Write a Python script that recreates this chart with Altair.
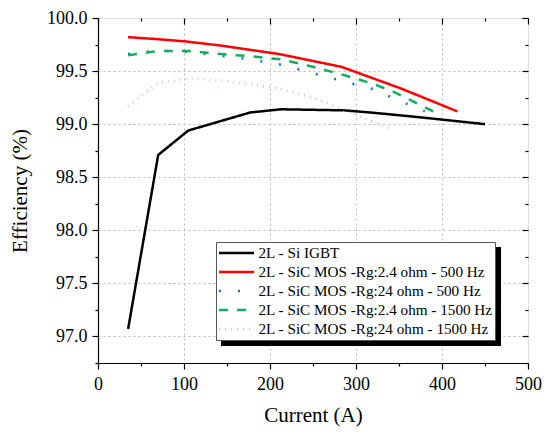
import altair as alt
import pandas as pd

series_names = [
    "2L - Si IGBT",
    "2L - SiC MOS -Rg:2.4 ohm - 500 Hz",
    "2L - SiC MOS -Rg:24 ohm - 500 Hz",
    "2L - SiC MOS -Rg:2.4 ohm - 1500 Hz",
    "2L - SiC MOS -Rg:24 ohm - 1500 Hz",
]
colors = ["#000000", "#FF0000", "#1470E8", "#13AD5C", "#C86EE6"]
dashes = [[1, 0], [1, 0], [2, 17], [9, 9], [0.5, 5.5]]
widths = [2.5, 2.5, 5, 3, 4.5]

igbt_x = [35, 70, 105, 177, 213, 287, 330, 380, 450]
igbt_y = [97.07, 98.71, 98.94, 99.11, 99.14, 99.13, 99.10, 99.06, 99.00]

sic24_500_x = [35, 70, 101, 143, 211, 283, 351, 418]
sic24_500_y = [99.82, 99.80, 99.78, 99.74, 99.66, 99.54, 99.34, 99.12]

rg24_500_x = [35, 70, 105, 143, 177, 213, 250, 287, 320, 345, 380]
rg24_500_y = [99.66, 99.695, 99.68, 99.645, 99.61, 99.56, 99.48, 99.40, 99.33, 99.24, 99.12]

rg2_1500_x = [35, 70, 105, 143, 177, 213, 250, 287, 320, 345, 370, 395]
rg2_1500_y = [99.65, 99.69, 99.69, 99.66, 99.64, 99.61, 99.54, 99.46, 99.38, 99.30, 99.20, 99.10]

rg24_1500_x = [35, 70, 105, 143, 177, 213, 250, 287, 340]
rg24_1500_y = [99.17, 99.39, 99.43, 99.41, 99.38, 99.33, 99.25, 99.13, 98.96]

x_major = [0, 100, 200, 300, 400, 500]
x_minor = [50, 150, 250, 350, 450]
y_major = [97.0, 97.5, 98.0, 98.5, 99.0, 99.5, 100.0]
y_minor = [96.75, 97.25, 97.75, 98.25, 98.75, 99.25, 99.75]

rows = []
for name, xs, ys in zip(
    series_names,
    [igbt_x, sic24_500_x, rg24_500_x, rg2_1500_x, rg24_1500_x],
    [igbt_y, sic24_500_y, rg24_500_y, rg2_1500_y, rg24_1500_y],
):
    for xv, yv in zip(xs, ys):
        rows.append({"series": name, "current": xv, "eff": yv})
df = pd.DataFrame(rows)

FONT = "Liberation Serif"
xscale = alt.Scale(domain=[0, 500], nice=False)
yscale = alt.Scale(domain=[96.75, 100.0], nice=False, zero=False)

x_all = sorted(x_major + x_minor)
y_all = sorted(y_major + y_minor)

XMAJ = "datum.value % 100 === 0"
YMAJ = "round(datum.value*4) % 2 === 0"

x_axis = alt.Axis(
    orient="bottom", values=x_all, title="Current (A)",
    labelExpr=f"{XMAJ} ? datum.label : ''",
    tickSize={"condition": {"test": XMAJ, "value": 6}, "value": 3},
    gridOpacity={"condition": {"test": f"{XMAJ} && datum.value > 0 && datum.value < 500", "value": 1}, "value": 0},
    grid=True, gridDash=[2, 3], gridColor="#b8b8b8", gridWidth=1,
    domainColor="black", tickColor="black", domainWidth=1.2, tickWidth=1.2,
    labelFont=FONT, labelFontSize=18, labelColor="black", labelPadding=6,
    titleFont=FONT, titleFontSize=21, titleFontWeight="normal", titleColor="black", titlePadding=11,
    labelFlush=False,
)
y_axis = alt.Axis(
    orient="left", values=y_all, title="Efficiency (%)", format=".1f",
    labelExpr=f"{YMAJ} ? datum.label : ''",
    tickSize={"condition": {"test": YMAJ, "value": 6}, "value": 3},
    gridOpacity={"condition": {"test": f"{YMAJ} && datum.value < 99.99", "value": 1}, "value": 0},
    grid=True, gridDash=[2, 3], gridColor="#b8b8b8", gridWidth=1,
    domainColor="black", tickColor="black", domainWidth=1.2, tickWidth=1.2,
    labelFont=FONT, labelFontSize=18, labelColor="black", labelPadding=5,
    titleFont=FONT, titleFontSize=21, titleFontWeight="normal", titleColor="black", titlePadding=16,
    labelFlush=False,
)

legend = alt.Legend(
    title=None, orient="none", legendX=118, legendY=224,
    symbolType="stroke", symbolSize=1225, labelFont=FONT, labelFontSize=15.2,
    labelColor="black", fillColor="white", strokeColor="#555555", padding=1.5,
    rowPadding=0, clipHeight=19, labelOffset=3, labelLimit=400, symbolOffset=0,
)

base = alt.Chart(df)

lines = base.mark_line().encode(
    x=alt.X("current:Q", scale=xscale, axis=x_axis),
    y=alt.Y("eff:Q", scale=yscale, axis=y_axis),
    color=alt.Color("series:N", scale=alt.Scale(domain=series_names, range=colors), legend=legend),
    strokeDash=alt.StrokeDash("series:N", scale=alt.Scale(domain=series_names, range=dashes), legend=legend),
    strokeWidth=alt.StrokeWidth("series:N", scale=alt.Scale(domain=series_names, range=widths), legend=legend),
    order="current:Q",
)

def inward(orient, values, size):
    # negative tick size (via expression) makes the mirrored ticks point into the plot
    return alt.Axis(orient=orient, values=values, labels=False, title=None, domain=False,
                    grid=False, tickSize=alt.ExprRef(expr=f"-{size}"), tickColor="black", tickWidth=1.2,
                    minExtent=0, maxExtent=0)

ghost = base.mark_line(opacity=0)
top_major = ghost.encode(x=alt.X("current:Q", scale=xscale, axis=inward("top", x_major, 6)), y=alt.Y("eff:Q", scale=yscale, axis=None))
top_minor = ghost.encode(x=alt.X("current:Q", scale=xscale, axis=inward("top", x_minor, 3)), y=alt.Y("eff:Q", scale=yscale, axis=None))
right_major = ghost.encode(x=alt.X("current:Q", scale=xscale, axis=None), y=alt.Y("eff:Q", scale=yscale, axis=inward("right", y_major, 6)))
right_minor = ghost.encode(x=alt.X("current:Q", scale=xscale, axis=None), y=alt.Y("eff:Q", scale=yscale, axis=inward("right", y_minor, 3)))

shadow = alt.Chart(pd.DataFrame({"k": [0]})).mark_rect(color="black").encode(
    x=alt.value(123), x2=alt.value(403), y=alt.value(229), y2=alt.value(328)
)

chart = alt.layer(
    shadow, lines, top_major, top_minor, right_major, right_minor
).resolve_axis(x="independent", y="independent").properties(
    width=430, height=345,
    autosize=alt.AutoSizeParams(type="none"),
    padding={"left": 90, "top": 10, "right": 14, "bottom": 64},
).configure_view(stroke="black", strokeWidth=1.2).configure_line(
    strokeCap="round", strokeJoin="round"
).configure(background="white")

chart.save("out.html", embed_options={"renderer": "svg", "actions": False})
